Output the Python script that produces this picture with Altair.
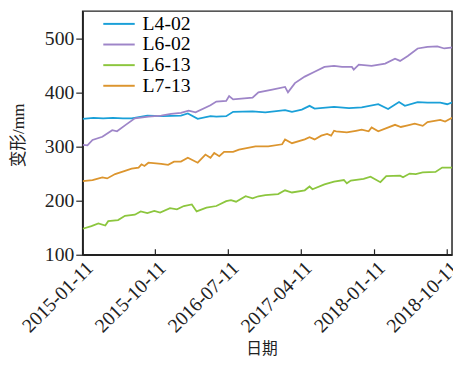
import altair as alt
import pandas as pd

START = "2015-01-11"

# day offsets from 2015-01-11 and deformation values (mm)
l402_days = [0, 41, 77, 114, 151, 184, 243, 299, 369, 395, 432, 480, 502, 539, 565, 638, 686, 760,
             786, 823, 852, 871, 944, 1000, 1048, 1110, 1147, 1188, 1210, 1258, 1295, 1343, 1369, 1391]
l402_vals = [351, 353, 352, 353, 352, 352, 357, 356, 357, 361, 351, 356, 355, 356, 364, 365, 363, 367,
             364, 368, 375, 370, 373, 371, 372, 378, 369, 382, 375, 382, 381, 381, 378, 382]

l602_days = [0, 18, 37, 74, 111, 129, 159, 196, 247, 295, 332, 369, 398, 424, 480, 502, 539, 550, 565,
             638, 660, 712, 760, 771, 797, 834, 871, 908, 944, 974, 1011, 1018, 1037, 1085, 1136, 1173,
             1192, 1221, 1258, 1295, 1332, 1358, 1391]
l602_vals = [303, 302, 312, 318, 330, 328, 339, 352, 355, 357, 360, 362, 366, 363, 376, 383, 384, 393, 387,
             390, 400, 405, 410, 400, 417, 429, 438, 447, 449, 447, 447, 442, 451, 449, 453, 462,
             458, 467, 481, 484, 485, 481, 483]

l613_days = [0, 33, 59, 85, 96, 133, 159, 196, 218, 243, 269, 291, 328, 354, 380, 410, 428, 465, 502, 539,
             557, 576, 612, 638, 660, 686, 734, 760, 786, 834, 852, 863, 908, 944, 981, 992, 1007, 1055,
             1081, 1118, 1140, 1192, 1203, 1228, 1251, 1277, 1325, 1350, 1387]
l613_vals = [148, 153, 158, 154, 162, 164, 172, 174, 180, 177, 181, 178, 186, 184, 190, 193, 180, 187, 190, 199,
             201, 198, 208, 204, 208, 210, 212, 219, 215, 219, 226, 221, 230, 235, 238, 232, 237, 240,
             244, 234, 245, 246, 243, 250, 249, 252, 253, 261, 261]

l713_days = [0, 37, 74, 92, 122, 159, 184, 210, 221, 232, 247, 295, 321, 343, 369, 395, 432, 461, 480, 494,
             513, 531, 565, 587, 649, 697, 749, 760, 786, 834, 852, 871, 896, 918, 933, 944, 952, 992,
             1026, 1048, 1074, 1085, 1110, 1173, 1195, 1221, 1247, 1277, 1295, 1343, 1361, 1391]
l713_vals = [236, 238, 243, 241, 249, 255, 259, 261, 267, 264, 270, 268, 266, 272, 272, 279, 270, 285, 279, 288,
             282, 290, 290, 294, 300, 300, 304, 313, 306, 313, 317, 313, 320, 323, 320, 329, 328, 326,
             329, 331, 328, 335, 328, 340, 336, 339, 342, 338, 345, 349, 346, 354]

series_names = ["L4-02", "L6-02", "L6-13", "L7-13"]
series_colors = ["#1aa0d8", "#9e85c8", "#8cc63e", "#dc952e"]
tick_dates = ["2015-01-11", "2015-10-11", "2016-07-11", "2017-04-11", "2018-01-11", "2018-10-11"]

start = pd.Timestamp(START)
rows = []
for name, days, vals in zip(series_names,
                            [l402_days, l602_days, l613_days, l713_days],
                            [l402_vals, l602_vals, l613_vals, l713_vals]):
    assert len(days) == len(vals)
    for d, v in zip(days, vals):
        rows.append({"date": start + pd.Timedelta(days=d), "value": v, "series": name})
df = pd.DataFrame(rows)

tick_df = pd.DataFrame({"date": pd.to_datetime(tick_dates)})


def dt(s):
    t = pd.Timestamp(s)
    return alt.DateTime(year=t.year, month=t.month, date=t.day)


LATIN = "Liberation Serif, Noto Sans CJK SC"

x_scale = alt.Scale(domain=[dt("2015-01-11"), dt("2018-10-29")])
y_scale = alt.Scale(domain=[100, 550])

lines = alt.Chart(df).mark_line(strokeWidth=1.8, clip=True).encode(
    x=alt.X("date:T", scale=x_scale,
            axis=alt.Axis(values=[dt(s) for s in tick_dates], format="%Y-%m-%d",
                          labelAngle=-45, labelAlign="right", labelBaseline="top",
                          labelPadding=3, labelOverlap=False, labelFlush=False,
                          labelBound=False, ticks=False, title="日期",
                          titleX=182, titleY=96, titleBaseline="middle", titleAlign="center",
                          titleFont="Noto Sans CJK SC", titleFontSize=16, titleFontWeight="normal")),
    y=alt.Y("value:Q", scale=y_scale,
            axis=alt.Axis(values=[100, 200, 300, 400, 500], tickSize=7, labelPadding=2,
                          title="变形/mm", titleAngle=-90, titleX=-65, titleY=126,
                          titleBaseline="middle", titleAlign="center",
                          titleFont=LATIN, titleFontSize=17, titleFontWeight="normal")),
    color=alt.Color("series:N",
                    scale=alt.Scale(domain=series_names, range=series_colors),
                    legend=alt.Legend(title=None, orient="none", legendX=27, legendY=3,
                                      symbolType="M-2,0H2", symbolSize=256, symbolStrokeWidth=2,
                                      labelFont=LATIN, labelFontSize=20, labelOffset=14,
                                      rowPadding=1, padding=0)),
)

ticks = alt.Chart(tick_df).mark_rule(color="#222", strokeWidth=1.2).encode(
    x=alt.X("date:T"),
    y=alt.datum(100),
    y2=alt.datum(110),
)

chart = alt.layer(lines, ticks).properties(
    width=376, height=248,
    autosize=alt.AutoSizeParams(type="none"),
    padding={"left": 76, "top": 0, "right": 1, "bottom": 105},
).configure_view(
    stroke="#222", strokeWidth=1.5,
).configure_axis(
    grid=False, domainColor="#222", domainWidth=1.5, tickColor="#222", tickWidth=1.2,
    labelFont=LATIN, labelFontSize=20, labelColor="#222", titleColor="#222",
)

chart.save("out.html", embed_options={"renderer": "svg", "actions": False})
